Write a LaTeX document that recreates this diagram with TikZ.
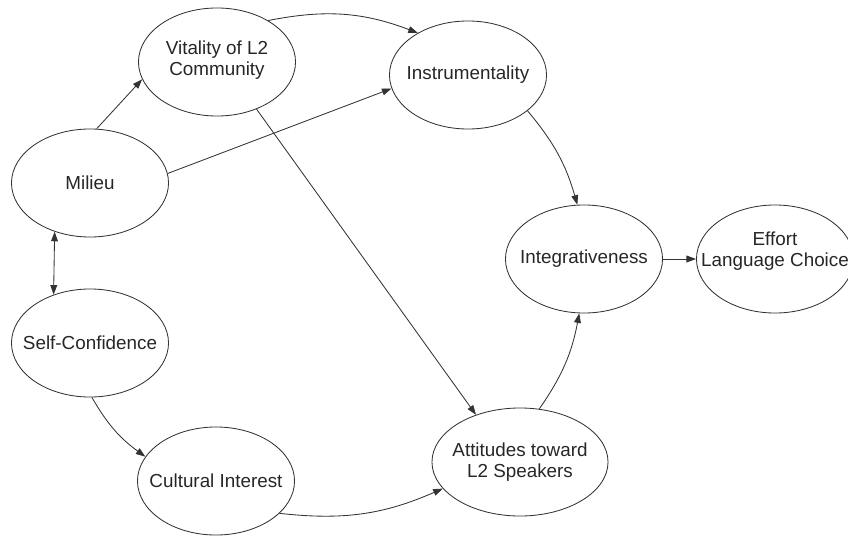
\documentclass[tikz,border=0pt]{standalone}
\usepackage{fontspec}
\setmainfont{Liberation Sans}
\usetikzlibrary{shapes,arrows.meta,positioning,calc}

\begin{document}
\begin{tikzpicture}[
  x=0.025cm, y=0.025cm,
  var/.style={ellipse, draw=black!80, line width=0.6pt, minimum width=3.925cm, minimum height=2.7cm, inner sep=0pt},
  txt/.style={align=center, text=black!85, font=\fontsize{13.4}{15}\selectfont},
  arrow/.style={-{Triangle[length=2.4mm,width=1.7mm]}, draw=black!80, line width=0.6pt}
]
  \useasboundingbox (0,0) rectangle (848,535);

  \node[var, label={[txt, yshift=0.05cm]center:Vitality of L2\\Community}] (vit) at (217,473) {};
  \node[var, label={[txt]center:Instrumentality}] (ins) at (468,460) {};
  \node[var, label={[txt]center:Milieu}] (mil) at (90,352) {};
  \node[var, label={[txt]center:Integrativeness}] (intg) at (584,276) {};
  \node[var, label={[txt, yshift=0.2cm]center:Effort\\Language Choice}] (eff) at (775,276) {};
  \node[var, label={[txt]center:Self-Confidence}] (self) at (90,192) {};
  \node[var, label={[txt]center:Cultural Interest}] (cult) at (216,54) {};
  \node[var, minimum width=4.4cm, label={[txt]center:Attitudes toward\\L2 Speakers}] (att) at (520,73) {};

  \draw[arrow] (mil.83) -- (vit.193);
  \draw[arrow] (mil.7) -- (ins.190);
  \draw[arrow] (vit.39) to[bend left=16] (ins.140);
  \draw[arrow] (vit.310) -- (att.133);
  \draw[arrow, {Triangle[length=2.4mm,width=1.7mm]}-{Triangle[length=2.4mm,width=1.7mm]}] (mil.234) -- (self.127);
  \draw[arrow] (self.272) to[bend right=12] (cult.161);
  \draw[arrow] (cult.333) to[bend right=15] (att.199);
  \draw[arrow] (att.70) to[bend right=12] (intg.265);
  \draw[arrow] (ins.329) to[bend left=12] (intg.97);
  \draw[arrow] (intg) -- (eff);
\end{tikzpicture}
\end{document}
